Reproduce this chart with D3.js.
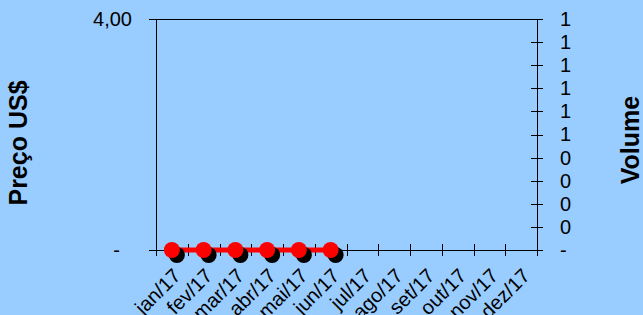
<!DOCTYPE html>
<meta charset="utf-8">
<title>Preço x Volume</title>
<style>
    body {
        margin: 0;
        background: #99ccff;
        font-family: "Liberation Sans", Arial, sans-serif;
    }
    .axis path,
    .axis line {
        fill: none;
        stroke: #000;
        stroke-width: 1;
        shape-rendering: crispEdges;
    }
    .axis text {
        font-family: "Liberation Sans", Arial, sans-serif;
        font-size: 20px;
        fill: #000;
    }
    .title {
        font-size: 25px;
        font-weight: bold;
        text-anchor: middle;
    }
</style>
<body>
<div id="chart"></div>
<script src="https://d3js.org/d3.v7.min.js"></script>
<script>
    // data
    var months = ["jan/17", "fev/17", "mar/17", "abr/17", "mai/17", "jun/17",
                  "jul/17", "ago/17", "set/17", "out/17", "nov/17", "dez/17"];
    var price = [0, 0, 0, 0, 0, 0, null, null, null, null, null, null];
    var priceTicks = [0, 4];
    var volumeTicks = [0, 0.1, 0.2, 0.3, 0.4, 0.5, 0.6, 0.7, 0.8, 0.9, 1];

    var width = 643, height = 315,
        margin = {top: 19, right: 106, bottom: 65, left: 156};
    var w = width - margin.left - margin.right,
        h = height - margin.top - margin.bottom;

    var svg = d3.select("#chart").append("svg")
        .attr("width", width)
        .attr("height", height)
        .style("display", "block");

    var g = svg.append("g")
        .attr("transform", `translate(${margin.left},${margin.top})`);

    var x = d3.scaleBand().domain(months).range([0, w]);
    var yPrice = d3.scaleLinear().domain([0, 4]).range([h, 0]);
    var yVol = d3.scaleLinear().domain([0, 1]).range([h, 0]);

    // top border of plot area
    g.append("line")
        .attr("x1", 0).attr("x2", w)
        .attr("y1", 0.5).attr("y2", 0.5)
        .attr("stroke", "#000")
        .style("shape-rendering", "crispEdges");

    // left axis (price)
    var leftAxis = g.append("g")
        .attr("class", "axis")
        .call(d3.axisLeft(yPrice).tickValues(priceTicks)
            .tickSizeOuter(0).tickSize(7).tickPadding(17)
            .tickFormat(d => d === 0 ? "-" : d3.format(".2f")(d).replace(".", ",")));
    leftAxis.selectAll(".tick text").filter(d => d === 0).attr("dx", -12);

    // right axis (volume)
    var rightAxis = g.append("g")
        .attr("class", "axis")
        .attr("transform", `translate(${w},0)`)
        .call(d3.axisRight(yVol).tickValues(volumeTicks)
            .tickSizeOuter(0).tickSize(6).tickPadding(17)
            .tickFormat(d => d === 0 ? "-" : d3.format(".0f")(d)));
    rightAxis.selectAll(".tick line").attr("x1", -6);

    // bottom axis (months), ticks at category boundaries
    var bottom = g.append("g")
        .attr("class", "axis")
        .attr("transform", `translate(0,${h})`);
    bottom.append("line")
        .attr("x1", 0).attr("x2", w)
        .attr("y1", 0.5).attr("y2", 0.5);
    bottom.selectAll(".bt")
        .data(months.concat(["end"]))
        .enter().append("line")
        .attr("class", "bt")
        .attr("x1", (d, i) => Math.round(i * x.bandwidth()) + 0.5)
        .attr("x2", (d, i) => Math.round(i * x.bandwidth()) + 0.5)
        .attr("y1", -6).attr("y2", 6);
    var lbl = bottom.selectAll(".lbl")
        .data(months)
        .enter().append("g")
        .attr("class", "lbl")
        .attr("transform", d => "translate(" + (x(d) + x.bandwidth() / 2 + 10) + ",27)");
    lbl.append("text")
        .attr("transform", "rotate(-45)")
        .attr("text-anchor", "end")
        .text(d => d);

    // price line
    var pts = months.map((m, i) => ({m: m, v: price[i]})).filter(d => d.v !== null);
    var line = d3.line()
        .x(d => x(d.m) + x.bandwidth() / 2)
        .y(d => yPrice(d.v));
    g.append("path")
        .datum(pts)
        .attr("d", line)
        .attr("fill", "none")
        .attr("stroke", "#ff0000")
        .attr("stroke-width", 5);

    // marker shadows
    g.selectAll(".shadow")
        .data(pts)
        .enter().append("circle")
        .attr("class", "shadow")
        .attr("cx", d => x(d.m) + x.bandwidth() / 2 + 5)
        .attr("cy", d => yPrice(d.v) + 5)
        .attr("r", 8)
        .attr("fill", "#000");

    g.selectAll(".dot")
        .data(pts)
        .enter().append("circle")
        .attr("class", "dot")
        .attr("cx", d => x(d.m) + x.bandwidth() / 2)
        .attr("cy", d => yPrice(d.v))
        .attr("r", 8)
        .attr("fill", "#ff0000");

    // axis titles
    svg.append("text")
        .attr("class", "title")
        .attr("transform", "translate(27,143) rotate(-90)")
        .text("Preço US$");
    svg.append("text")
        .attr("class", "title")
        .attr("transform", "translate(639,140) rotate(-90)")
        .text("Volume");
</script>
</body>
